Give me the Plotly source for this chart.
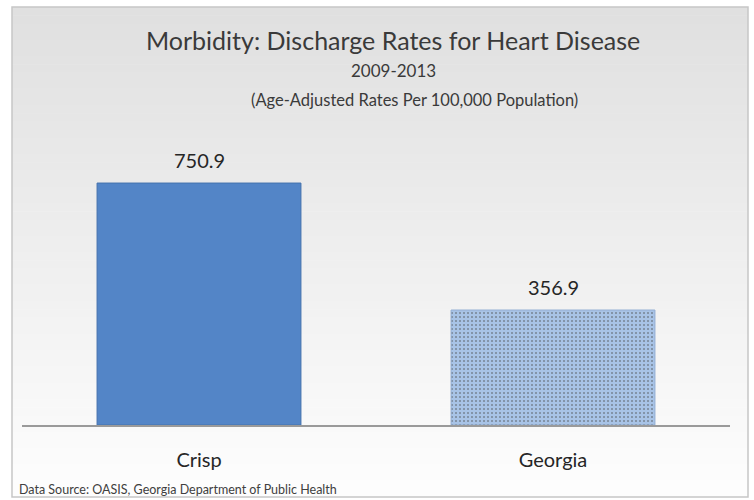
import plotly.graph_objects as go

# Discharge rates (age-adjusted, per 100,000), 2009-2013
areas = ["Crisp", "Georgia"]
rates = [750.9, 356.9]
bar_colors = ["#5385c7", "#a8c3e6"]
value_labels = ["750.9", "356.9"]

W, H = 754, 500
ML, MR, MT, MB = 22, 24, 135, 75
plot_w = W - ML - MR
plot_h = H - MT - MB


def px_x(x):
    return (x - ML) / plot_w


def px_y(y):
    return (H - MB - y) / plot_h


fig = go.Figure()

fig.add_trace(go.Bar(
    x=areas,
    y=rates,
    width=0.576,
    marker=dict(
        color=bar_colors,
        line=dict(color=["#4572ad", "#93aed3"], width=1),
        pattern=dict(shape=["", "."], fgcolor="#b6cdeb", bgcolor="#a8c3e6",
                     size=4, solidity=0.2),
    ),
    hoverinfo="skip",
    showlegend=False,
))

# Value labels above each bar
for a, v, t in zip(areas, rates, value_labels):
    fig.add_annotation(x=a, y=v, text=t, showarrow=False, yanchor="bottom",
                       yshift=9, font=dict(size=20, color="#262626"))

# Soft vertical gradient behind the chart, framed by a light border
shapes = []
top_px, bot_px = 7, 497
n = 60
c0, c1 = (224, 224, 224), (253, 253, 253)
for i in range(n):
    f = i / (n - 1)
    col = tuple(round(c0[k] + (c1[k] - c0[k]) * f) for k in range(3))
    y0 = top_px + (bot_px - top_px) * i / n
    y1 = top_px + (bot_px - top_px) * (i + 1) / n + 0.6
    shapes.append(dict(type="rect", xref="paper", yref="paper", layer="below",
                       x0=px_x(12), x1=px_x(748), y0=px_y(y1), y1=px_y(y0),
                       line=dict(width=0), fillcolor="rgb(%d,%d,%d)" % col))
shapes.append(dict(type="rect", xref="paper", yref="paper", layer="below",
                   x0=px_x(12), x1=px_x(748), y0=px_y(bot_px), y1=px_y(top_px),
                   line=dict(color="#c6c6c6", width=1.5), fillcolor="rgba(0,0,0,0)"))

base_font = "Lato, 'Open Sans', sans-serif"
annos = [
    dict(text="Morbidity: Discharge Rates for Heart Disease", x=px_x(393), y=px_y(40),
         font=dict(size=25, color="#3a3a3a")),
    dict(text="2009-2013", x=px_x(393), y=px_y(70), font=dict(size=17, color="#3a3a3a")),
    dict(text="(Age-Adjusted Rates Per 100,000 Population)", x=px_x(414), y=px_y(100),
         font=dict(size=16.5, color="#3a3a3a")),
]
for a in annos:
    fig.add_annotation(xref="paper", yref="paper", showarrow=False,
                       xanchor="center", yanchor="middle", **a)

fig.add_annotation(xref="paper", yref="paper", x=px_x(17), y=px_y(490),
                   xanchor="left", yanchor="middle", showarrow=False,
                   text="Data Source: OASIS, Georgia Department of Public Health",
                   font=dict(size=12.5, color="#404040"))

fig.update_layout(
    width=W, height=H,
    margin=dict(l=ML, r=MR, t=MT, b=MB),
    paper_bgcolor="white",
    plot_bgcolor="rgba(0,0,0,0)",
    font=dict(family=base_font, color="#262626"),
    shapes=shapes,
    bargap=0.424,
)
fig.update_xaxes(showline=True, linecolor="#9a9a9a", linewidth=1.5,
                 ticks="", tickfont=dict(size=20, color="#262626"),
                 ticklabelstandoff=16, showgrid=False)
fig.update_yaxes(range=[0, 900], visible=False, showgrid=False)

fig.write_html("out.html")
